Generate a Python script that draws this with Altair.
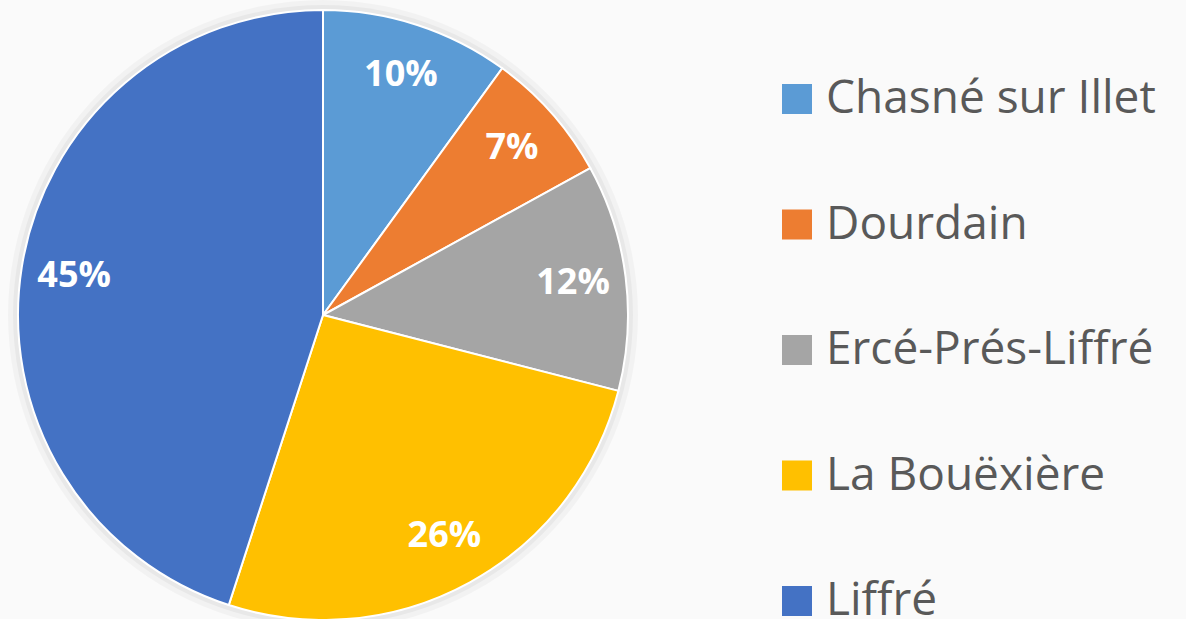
import altair as alt
import pandas as pd

categories = ["Chasné sur Illet", "Dourdain", "Ercé-Prés-Liffré", "La Bouëxière", "Liffré"]
values = [10, 7, 12, 26, 45]
labels = ["10%", "7%", "12%", "26%", "45%"]
colors = ["#5B9BD5", "#ED7D31", "#A5A5A5", "#FFC000", "#4472C4"]

df = pd.DataFrame({
    "commune": categories,
    "value": values,
    "label": labels,
    "order": list(range(len(categories))),
})

CX, CY, R = 323, 315, 305

base = alt.Chart(df).encode(
    theta=alt.Theta("value:Q", stack=True),
    order=alt.Order("order:Q"),
    x=alt.value(CX),
    y=alt.value(CY),
)

one = pd.DataFrame({"v": [1]})
shadow1 = alt.Chart(one).mark_circle(
    size=(2 * (R + 10)) ** 2, color="#000000", opacity=0.03
).encode(x=alt.value(CX), y=alt.value(CY))
shadow2 = alt.Chart(one).mark_circle(
    size=(2 * (R + 5)) ** 2, color="#000000", opacity=0.04
).encode(x=alt.value(CX), y=alt.value(CY))

arcs = base.mark_arc(outerRadius=R, stroke="white", strokeWidth=2).encode(
    color=alt.Color(
        "commune:N",
        scale=alt.Scale(domain=categories, range=colors),
        sort=categories,
        legend=alt.Legend(
            title=None,
            orient="none",
            legendX=774,
            legendY=76,
            symbolType="square",
            symbolSize=900,
            symbolStrokeWidth=0,
            labelFont="Open Sans",
            labelFontSize=46,
            labelColor="#595959",
            labelOffset=6,
            rowPadding=79.5,
            padding=0,
            labelLimit=500,
        ),
    )
)

text = base.mark_text(
    radius=252, font="Open Sans", fontSize=36, fontWeight="bold", color="white"
).encode(text="label:N")

chart = (
    alt.layer(shadow1, shadow2, arcs, text)
    .properties(width=1186, height=619, padding=0, autosize=alt.AutoSizeParams(type="none"),
                background="#fafafa")
    .configure_view(stroke=None)
)

chart.save("out.html", embed_options={"renderer": "svg", "actions": False})
